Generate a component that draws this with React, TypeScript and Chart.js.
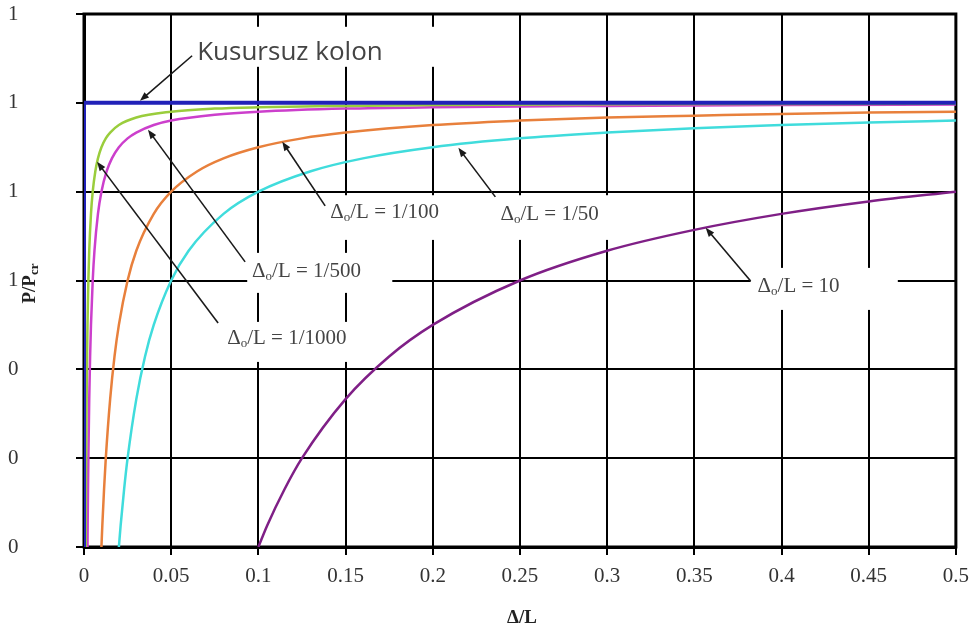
import React, { useEffect, useRef } from "react";
import { Chart, registerables } from "chart.js";

Chart.register(...registerables);

// ---- Data ----
const xTickStep = 0.05;
const yTickStep = 0.2;

// Perfect column ("Kusursuz kolon")
const perfectX = [0, 0, 0.5];
const perfectY = [0, 1, 1];

// Δo/L = 1/1000
const x1000 = [0.001, 0.00105, 0.00115, 0.00125, 0.0015, 0.00175, 0.002, 0.0025, 0.003, 0.004, 0.005, 0.0065, 0.008, 0.01, 0.0125, 0.015, 0.02, 0.03, 0.05, 0.075, 0.1, 0.15, 0.2, 0.3, 0.4, 0.5];
const y1000 = [0, 0.048, 0.13, 0.2, 0.333, 0.429, 0.5, 0.6, 0.667, 0.75, 0.8, 0.846, 0.875, 0.9, 0.92, 0.933, 0.95, 0.967, 0.98, 0.987, 0.99, 0.993, 0.995, 0.997, 0.9975, 0.998];

// Δo/L = 1/500
const x500 = [0.002, 0.0021, 0.0023, 0.0025, 0.003, 0.0035, 0.004, 0.005, 0.006, 0.008, 0.01, 0.013, 0.016, 0.02, 0.025, 0.03, 0.04, 0.05, 0.075, 0.1, 0.15, 0.2, 0.3, 0.4, 0.5];
const y500 = [0, 0.048, 0.13, 0.2, 0.333, 0.429, 0.5, 0.6, 0.667, 0.75, 0.8, 0.846, 0.875, 0.9, 0.92, 0.933, 0.95, 0.96, 0.973, 0.98, 0.987, 0.99, 0.993, 0.995, 0.996];

// Δo/L = 1/100
const x100 = [0.01, 0.0105, 0.0115, 0.0125, 0.015, 0.0175, 0.02, 0.025, 0.03, 0.04, 0.05, 0.065, 0.08, 0.1, 0.125, 0.15, 0.2, 0.25, 0.3, 0.35, 0.4, 0.45, 0.5];
const y100 = [0, 0.048, 0.13, 0.2, 0.333, 0.429, 0.5, 0.6, 0.667, 0.75, 0.8, 0.846, 0.875, 0.9, 0.92, 0.933, 0.95, 0.96, 0.967, 0.971, 0.975, 0.978, 0.98];

// Δo/L = 1/50
const x50 = [0.02, 0.021, 0.023, 0.025, 0.03, 0.035, 0.04, 0.05, 0.06, 0.08, 0.1, 0.13, 0.16, 0.2, 0.25, 0.3, 0.35, 0.4, 0.45, 0.5];
const y50 = [0, 0.048, 0.13, 0.2, 0.333, 0.429, 0.5, 0.6, 0.667, 0.75, 0.8, 0.846, 0.875, 0.9, 0.92, 0.933, 0.943, 0.95, 0.956, 0.96];

// Δo/L = 10 (1/10)
const x10 = [0.1, 0.105, 0.115, 0.125, 0.15, 0.175, 0.2, 0.25, 0.3, 0.35, 0.4, 0.45, 0.5];
const y10 = [0, 0.048, 0.13, 0.2, 0.333, 0.429, 0.5, 0.6, 0.667, 0.714, 0.75, 0.778, 0.8];

const seriesNames = ["Kusursuz kolon", "1/1000", "1/500", "1/100", "1/50", "10"];

// ---- Annotations (label text, placement in data units) ----
type Ann = {
  rest?: string;
  plain?: string;
  at: [number, number];
  box: [number, number, number, number];
  from: [number, number];
  to: [number, number];
};
const ANNOTATIONS: Ann[] = [
  { plain: "Kusursuz kolon", at: [0.0649, 1.1126], box: [0.058, 0.2187, 1.1712, 1.0811], from: [0.062, 1.106], to: [0.0321, 1.0045] },
  { rest: "/L = 1/100", at: [0.1412, 0.7523], box: [0.1326, 0.2101, 0.792, 0.6914], from: [0.1383, 0.768], to: [0.1137, 0.9122] },
  { rest: "/L = 1/50", at: [0.2388, 0.7477], box: [0.2273, 0.3048, 0.792, 0.6914], from: [0.2359, 0.7883], to: [0.2147, 0.8986] },
  { rest: "/L = 1/500", at: [0.0964, 0.6194], box: [0.0936, 0.1768, 0.6622, 0.5721], from: [0.0924, 0.6419], to: [0.0367, 0.9392] },
  { rest: "/L = 1/1000", at: [0.0821, 0.4685], box: [0.0752, 0.1584, 0.5068, 0.4167], from: [0.0769, 0.5045], to: [0.0075, 0.8671] },
  { rest: "/L = 10", at: [0.3863, 0.5856], box: [0.3823, 0.4667, 0.6284, 0.5338], from: [0.3823, 0.5991], to: [0.3565, 0.7185] },
];

const SERIF = '"Liberation Serif", "Times New Roman", serif';

function toPts(xs: number[], ys: number[]) {
  return xs.map((x, i) => ({ x, y: ys[i] }));
}

const overlayPlugin = {
  id: "overlay",
  beforeDatasetsDraw(chart: any) {
    const { ctx, chartArea: a, scales } = chart;
    const xs = scales.x, ys = scales.y;
    ctx.save();
    ctx.fillStyle = "#ffffff";
    for (const an of ANNOTATIONS) {
      const [x1, x2, y1, y2] = an.box;
      const px1 = xs.getPixelForValue(x1), px2 = xs.getPixelForValue(x2);
      const py1 = ys.getPixelForValue(y1), py2 = ys.getPixelForValue(y2);
      ctx.fillRect(px1, py1, px2 - px1, py2 - py1);
    }
    ctx.strokeStyle = "#000";
    ctx.lineWidth = 3;
    ctx.strokeRect(a.left, a.top, a.right - a.left, a.bottom - a.top);
    ctx.restore();
  },
  afterDatasetsDraw(chart: any) {
    const { ctx, chartArea: a, scales } = chart;
    const xs = scales.x, ys = scales.y;
    ctx.save();
    for (const an of ANNOTATIONS) {
      const fx = xs.getPixelForValue(an.from[0]), fy = ys.getPixelForValue(an.from[1]);
      const tx = xs.getPixelForValue(an.to[0]), ty = ys.getPixelForValue(an.to[1]);
      ctx.strokeStyle = "#1a1a1a";
      ctx.fillStyle = "#1a1a1a";
      ctx.lineWidth = 1.6;
      const ang = Math.atan2(ty - fy, tx - fx);
      const hl = 9, hw = 3.5;
      ctx.beginPath();
      ctx.moveTo(fx, fy);
      ctx.lineTo(tx - Math.cos(ang) * hl * 0.8, ty - Math.sin(ang) * hl * 0.8);
      ctx.stroke();
      ctx.beginPath();
      ctx.moveTo(tx, ty);
      ctx.lineTo(tx - Math.cos(ang) * hl - Math.sin(ang) * hw, ty - Math.sin(ang) * hl + Math.cos(ang) * hw);
      ctx.lineTo(tx - Math.cos(ang) * hl + Math.sin(ang) * hw, ty - Math.sin(ang) * hl - Math.cos(ang) * hw);
      ctx.closePath();
      ctx.fill();

      const px = xs.getPixelForValue(an.at[0]);
      const py = ys.getPixelForValue(an.at[1]);
      ctx.textBaseline = "middle";
      ctx.textAlign = "left";
      ctx.fillStyle = "#444";
      if (an.plain) {
        ctx.font = '26px "Open Sans", "Noto Sans", sans-serif';
        ctx.fillText(an.plain, px, py);
      } else {
        ctx.font = `21px ${SERIF}`;
        ctx.fillText("Δ", px, py);
        let w = ctx.measureText("Δ").width;
        ctx.font = `13px ${SERIF}`;
        ctx.fillText("o", px + w, py + 5);
        w += ctx.measureText("o").width;
        ctx.font = `21px ${SERIF}`;
        ctx.fillText(an.rest, px + w, py);
      }
    }

    // axis titles
    ctx.fillStyle = "#222";
    ctx.textBaseline = "middle";
    ctx.textAlign = "center";
    ctx.font = `bold 19px ${SERIF}`;
    ctx.fillText("Δ/L", (a.left + a.right) / 2 + 2, a.bottom + 71);

    ctx.translate(30, (a.top + a.bottom) / 2 + 3);
    ctx.rotate(-Math.PI / 2);
    ctx.font = `bold 19px ${SERIF}`;
    const w1 = ctx.measureText("P/P").width;
    ctx.font = `bold 13px ${SERIF}`;
    const w2 = ctx.measureText("cr").width;
    const start = -(w1 + w2) / 2;
    ctx.textAlign = "left";
    ctx.font = `bold 19px ${SERIF}`;
    ctx.fillText("P/P", start, 0);
    ctx.font = `bold 13px ${SERIF}`;
    ctx.fillText("cr", start + w1, 5);
    ctx.restore();
  },
};

export default function App() {
  const ref = useRef<HTMLCanvasElement | null>(null);

  useEffect(() => {
    if (!ref.current) return;
    const common = { pointRadius: 0, fill: false, borderWidth: 2.5, cubicInterpolationMode: "monotone" as const };
    const chart = new Chart(ref.current, {
      type: "line",
      data: {
        datasets: [
          { label: seriesNames[0], data: toPts(perfectX, perfectY), borderColor: "#2121b8", borderWidth: 4, pointRadius: 0, tension: 0 },
          { label: seriesNames[1], data: toPts(x1000, y1000), borderColor: "#9acd3c", ...common },
          { label: seriesNames[2], data: toPts(x500, y500), borderColor: "#cc3fcc", ...common },
          { label: seriesNames[3], data: toPts(x100, y100), borderColor: "#e8803c", ...common },
          { label: seriesNames[4], data: toPts(x50, y50), borderColor: "#40dcdc", ...common },
          { label: seriesNames[5], data: toPts(x10, y10), borderColor: "#7f1f86", ...common },
        ],
      },
      options: {
        responsive: false,
        animation: false,
        devicePixelRatio: 1,
        parsing: false as any,
        layout: { padding: { left: 8, right: 13, top: 14, bottom: 40 } },
        plugins: { legend: { display: false }, tooltip: { enabled: false } },
        scales: {
          x: {
            type: "linear",
            min: 0,
            max: 0.5,
            ticks: {
              stepSize: xTickStep,
              autoSkip: false,
              maxRotation: 0,
              padding: 0,
              color: "#333",
              font: { family: SERIF, size: 21, lineHeight: 2 },
              callback: (v: any) => String(Math.round(Number(v) * 100) / 100),
            },
            grid: { color: "#000", lineWidth: 2, tickLength: 8, tickColor: "#000" },
            border: { color: "#000", width: 3 },
          },
          y: {
            type: "linear",
            min: 0,
            max: 1.2,
            afterFit: (s: any) => {
              s.width = 76;
            },
            ticks: {
              stepSize: yTickStep,
              padding: 1,
              crossAlign: "far",
              color: "#333",
              font: { family: SERIF, size: 21 },
              callback: (v: any) => Math.round(Number(v)).toFixed(0),
            },
            grid: { color: "#000", lineWidth: 2, tickLength: 8, tickColor: "#000" },
            border: { color: "#000", width: 3 },
          },
        },
      },
      plugins: [overlayPlugin],
    });
    return () => chart.destroy();
  }, []);

  return (
    <div style={{ position: "absolute", left: 0, top: 0, width: 969, height: 637, background: "#fff" }}>
      <canvas ref={ref} width={969} height={637} style={{ display: "block" }} />
    </div>
  );
}
